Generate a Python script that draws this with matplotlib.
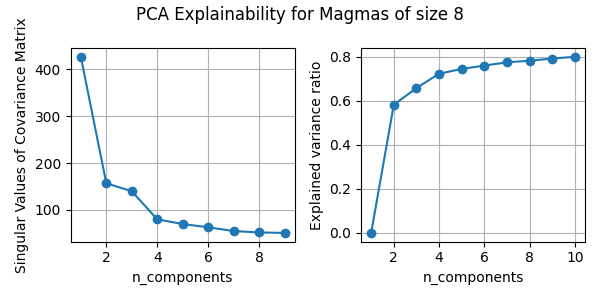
import matplotlib
matplotlib.use("Agg")
import matplotlib.pyplot as plt

sv_components = [1, 2, 3, 4, 5, 6, 7, 8, 9]
singular_values = [427, 157, 140, 80, 70, 63, 55, 52, 51]

ev_components = [1, 2, 3, 4, 5, 6, 7, 8, 9, 10]
explained_ratio = [0.0, 0.582, 0.658, 0.723, 0.745, 0.760, 0.775, 0.782, 0.792, 0.800]

fig, (ax1, ax2) = plt.subplots(1, 2, figsize=(6, 3), dpi=100)
fig.suptitle("PCA Explainability for Magmas of size 8")

ax1.plot(sv_components, singular_values, marker="o")
ax1.set_xlabel("n_components")
ax1.set_ylabel("Singular Values of Covariance Matrix")
ax1.grid()

ax2.plot(ev_components, explained_ratio, marker="o")
ax2.set_xlabel("n_components")
ax2.set_ylabel("Explained variance ratio")
ax2.grid()

plt.tight_layout()
plt.savefig("out.png")
